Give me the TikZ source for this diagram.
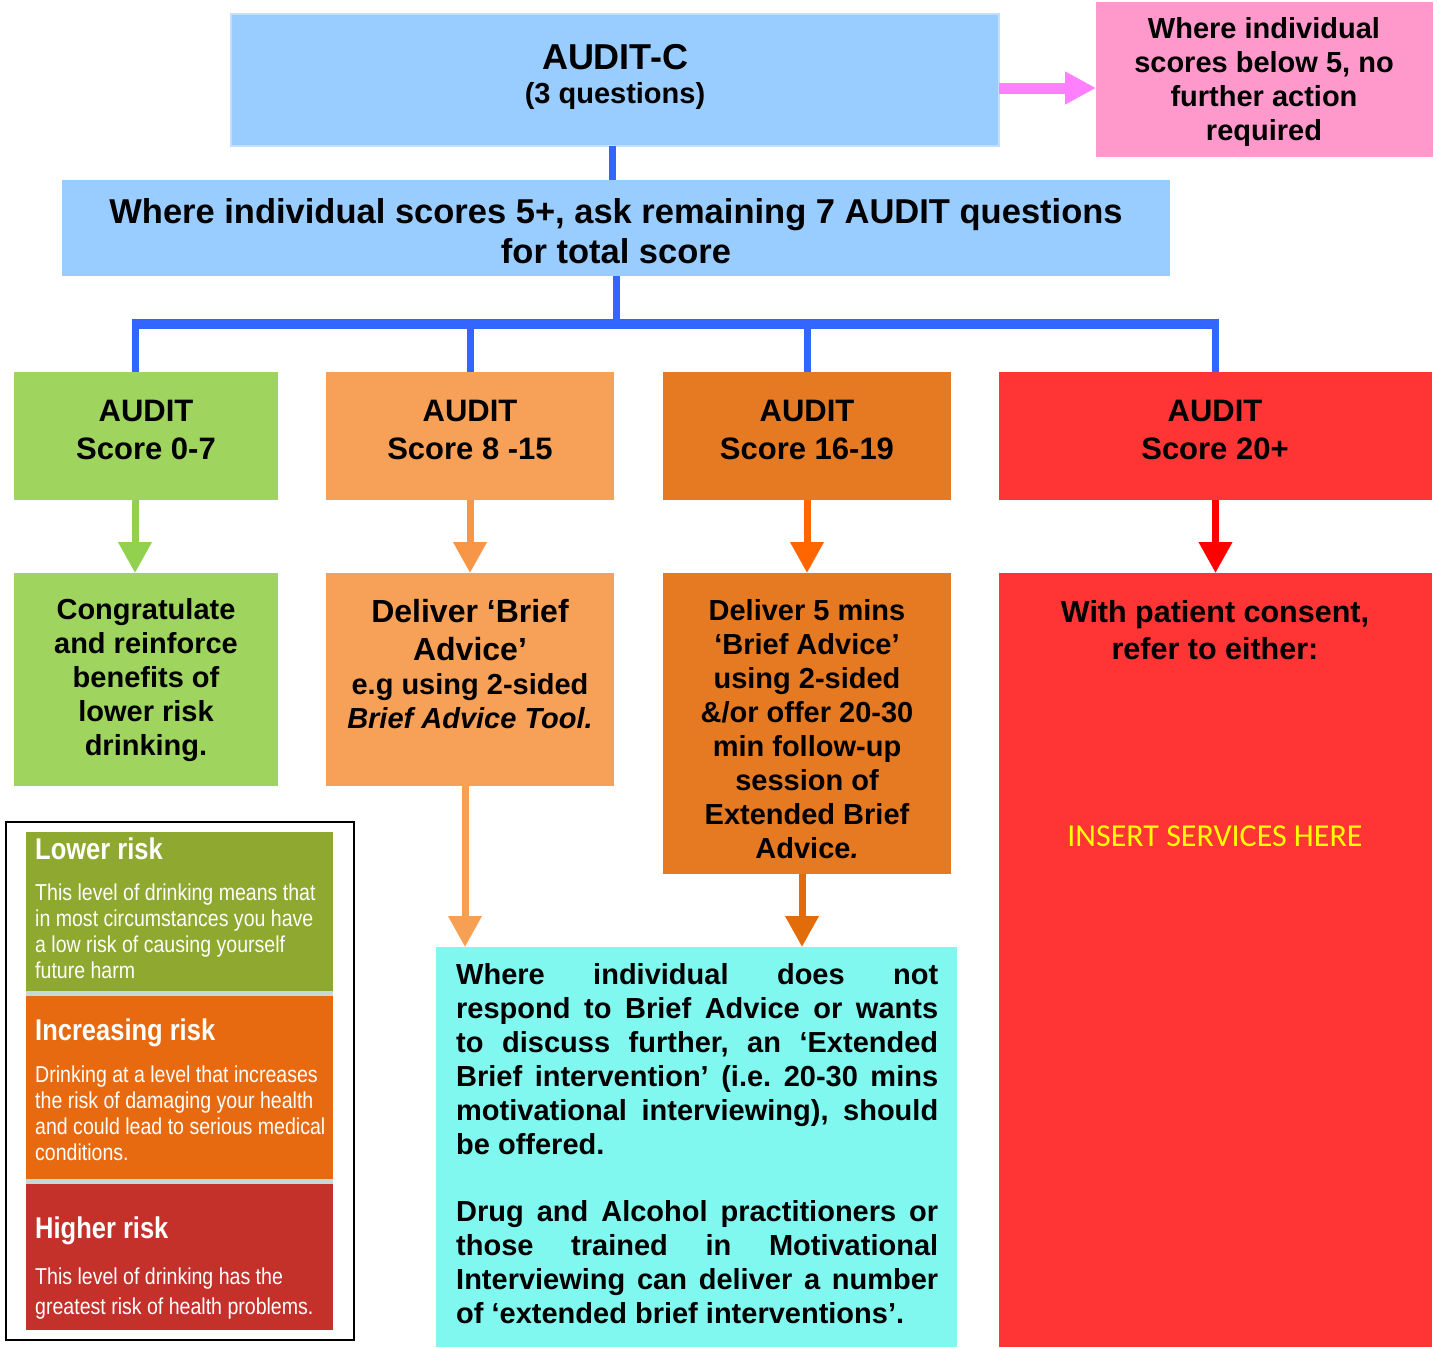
\documentclass[tikz,border=0pt]{standalone}
\usepackage{fontspec}
\setmainfont{Liberation Sans}
\newfontfamily\condfont{Liberation Sans}[FakeStretch=0.85]
\newfontfamily\calfont{Carlito}
\usetikzlibrary{arrows.meta}
\frenchspacing
\definecolor{bluefill}{HTML}{99CCFF}
\definecolor{blueedge}{HTML}{C2DFFF}
\definecolor{blueline}{HTML}{3366FF}
\definecolor{pinkfill}{HTML}{FF99CC}
\definecolor{pinkarrow}{HTML}{FF80FF}
\definecolor{greenbox}{HTML}{9FD45F}
\definecolor{lorangebox}{HTML}{F6A157}
\definecolor{orangebox}{HTML}{E57A23}
\definecolor{redbox}{HTML}{FF3535}
\definecolor{cyanbox}{HTML}{80F8F0}
\definecolor{greenarr}{HTML}{92D050}
\definecolor{lorangearr}{HTML}{F79646}
\definecolor{orangearr}{HTML}{FF6600}
\definecolor{redarr}{HTML}{FF0000}
\definecolor{longlor}{HTML}{F7A053}
\definecolor{longor}{HTML}{E36C0A}
\definecolor{lggreen}{HTML}{8FA830}
\definecolor{lgorange}{HTML}{E86A10}
\definecolor{lgred}{HTML}{C4302A}
\definecolor{lgsep}{HTML}{C8D8D6}
\definecolor{insertyellow}{HTML}{FFFF00}
\begin{document}
\begin{tikzpicture}[x=1pt,y=-1pt,
  rbox/.style={anchor=north west, inner sep=0pt, outer sep=0pt, draw=none},
  tx/.style={inner sep=0pt, outer sep=0pt, align=center},
  fA/.style={font=\bfseries\fontsize{29}{34}\selectfont},
  fS/.style={font=\bfseries\fontsize{31}{38}\selectfont},
  fQ/.style={font=\bfseries\fontsize{34.5}{40}\selectfont},
  lghead/.style={inner sep=0pt, anchor=west, text=white, font=\condfont\bfseries\fontsize{30}{34}\selectfont},
  lgbody/.style={inner sep=0pt, anchor=north west, align=left, text=white},
  blueconn/.style={draw=blueline, line width=7pt},
  arr/.style={line width=7pt, -{Triangle[width=32pt,length=31pt]}}
]
\useasboundingbox (0,0) rectangle (1438,1347);

% ---- boxes ----
\node[rbox, fill=bluefill, draw=blueedge, line width=2pt, minimum width=768pt, minimum height=132pt] (auditc) at (231,14) {};
\node[rbox, fill=pinkfill, minimum width=337pt, minimum height=155pt] (pink) at (1096,2) {};
\node[rbox, fill=bluefill, minimum width=1108pt, minimum height=96pt] (q7) at (62,180) {};
\node[rbox, fill=greenbox, minimum width=264pt, minimum height=128pt] (s1) at (14,372) {};
\node[rbox, fill=lorangebox, minimum width=288pt, minimum height=128pt] (s2) at (326,372) {};
\node[rbox, fill=orangebox, minimum width=288pt, minimum height=128pt] (s3) at (663,372) {};
\node[rbox, fill=redbox, minimum width=433pt, minimum height=128pt] (s4) at (999,372) {};
\node[rbox, fill=greenbox, minimum width=264pt, minimum height=213pt] (r1) at (14,573) {};
\node[rbox, fill=lorangebox, minimum width=288pt, minimum height=213pt] (r2) at (326,573) {};
\node[rbox, fill=orangebox, minimum width=288pt, minimum height=301pt] (r3) at (663,573) {};
\node[rbox, fill=redbox, minimum width=433pt, minimum height=774pt] (r4) at (999,573) {};
\node[rbox, fill=cyanbox, minimum width=521pt, minimum height=400pt] (cyan) at (436,947) {};

% ---- legend ----
\node[rbox, draw=black, line width=2pt, minimum width=348pt, minimum height=518pt] (lgframe) at (6,822) {};
\node[rbox, fill=lgsep, minimum width=307pt, minimum height=498pt] (lgback) at (26,832) {};
\node[rbox, fill=lggreen, minimum width=307pt, minimum height=159pt] (lg1) at (26,832) {};
\node[rbox, fill=lgorange, minimum width=307pt, minimum height=183pt] (lg2) at (26,996) {};
\node[rbox, fill=lgred, minimum width=307pt, minimum height=146pt] (lg3) at (26,1184) {};

\node[lghead] (lgh1) at (35,849) {Lower risk};
\node[lgbody, font=\condfont\fontsize{23}{26}\selectfont] (lgb1) at (35,884) {This level of drinking means that\\in most circumstances you have\\a low risk of causing yourself\\future harm};
\node[lghead] (lgh2) at (35,1033) {Increasing risk};
\node[lgbody, font=\condfont\fontsize{23}{26}\selectfont] (lgb2) at (35,1066) {Drinking at a level that increases\\the risk of damaging your health\\and could lead to serious medical\\conditions.};
\node[lghead] (lgh3) at (35,1231) {Higher risk};
\node[lgbody, font=\condfont\fontsize{23}{30}\selectfont] (lgb3) at (35,1268) {This level of drinking has the\\greatest risk of health problems.};

% ---- texts ----
\node[tx, font=\bfseries\fontsize{36}{40}\selectfont] (tauditc) at (615,57) {AUDIT-C};
\node[tx, font=\bfseries\fontsize{29}{34}\selectfont] (tq3) at (615,96) {(3 questions)};
\node[tx, fA] (tpink) at (1264,82) {Where individual\\scores below 5, no\\further action\\required};
\node[tx, fQ] (tq7) at (616,231) {Where individual scores 5+, ask remaining 7 AUDIT questions\\for total score};
\node[tx, fS] (ts1) at (146,430) {AUDIT\\Score 0-7};
\node[tx, fS] (ts2) at (470,430) {AUDIT\\Score 8 -15};
\node[tx, fS] (ts3) at (807,430) {AUDIT\\Score 16-19};
\node[tx, fS] (ts4) at (1215,430) {AUDIT\\Score 20+};
\node[tx, fA] (tr1) at (146,680) {Congratulate\\and reinforce\\benefits of\\lower risk\\drinking.};
\node[tx, font=\bfseries\fontsize{32}{38}\selectfont] (tr2a) at (470,630) {Deliver ‘Brief\\Advice’};
\node[tx, fA] (tr2b) at (470,701) {e.g using 2-sided\\\textit{Brief Advice Tool.}};
\node[tx, fA] (tr3) at (807,729) {Deliver 5 mins\\‘Brief Advice’\\using 2-sided\\\&/or offer 20-30\\min follow-up\\session of\\Extended Brief\\Advice\textit{.}};
\node[tx, font=\bfseries\fontsize{30.5}{37}\selectfont] (tr4) at (1215,630) {With patient consent,\\refer to either:};
\node[tx, text=insertyellow, font=\calfont\fontsize{32}{36}\selectfont] (tins) at (1215,836) {INSERT SERVICES HERE};
\node[inner sep=0pt, anchor=north west, text width=482pt, align=justify, font=\bfseries\fontsize{29}{34}\selectfont] (tcyan) at (456,963)
 {\hbadness=10000 Where individual does not\linebreak respond to Brief Advice or wants\linebreak to discuss further, an ‘Extended\linebreak Brief intervention’ (i.e. 20-30 mins\linebreak motivational interviewing), should\linebreak be offered.\par\vskip 33pt
 Drug and Alcohol practitioners or\linebreak those trained in Motivational\linebreak Interviewing can deliver a number\linebreak of ‘extended brief interventions’.};

% ---- connectors ----
\draw[line width=11pt, draw=pinkarrow, -{Triangle[width=31pt,length=31pt]}] ([yshift=-8pt]auditc.east) -- ([yshift=-8.5pt]pink.west);
\coordinate (c0) at ([xshift=-3pt]auditc.south);
\draw[blueconn] (c0) -- (c0 |- q7.north);
\coordinate (bar) at (615,324);
\coordinate (t1) at ([xshift=-11pt]s1.north);
\coordinate (b1) at ([xshift=-11pt]s1.south);
\draw[blueconn] (q7.south) -- (q7.south |- bar);
\draw[draw=blueline, line width=10pt, shorten <=-3.5pt, shorten >=-3.5pt] (t1 |- bar) -- (s4.north |- bar);
\draw[blueconn] (t1 |- bar) -- (t1);
\draw[blueconn] (s2.north |- bar) -- (s2.north);
\draw[blueconn] (s3.north |- bar) -- (s3.north);
\draw[blueconn] (s4.north |- bar) -- (s4.north);

\draw[arr, draw=greenarr, fill=greenarr] (b1) -- (b1 |- r1.north);
\draw[arr, draw=lorangearr, fill=lorangearr] (s2.south) -- (r2.north);
\draw[arr, draw=orangearr, fill=orangearr] (s3.south) -- (r3.north);
\draw[arr, draw=redarr, fill=redarr] (s4.south) -- (r4.north);

\coordinate (a2) at ([xshift=-5pt]r2.south);
\coordinate (a3) at ([xshift=-5pt]r3.south);
\draw[arr, draw=longlor, fill=longlor] (a2) -- (a2 |- cyan.north);
\draw[arr, draw=longor, fill=longor] (a3) -- (a3 |- cyan.north);
\end{tikzpicture}
\end{document}
